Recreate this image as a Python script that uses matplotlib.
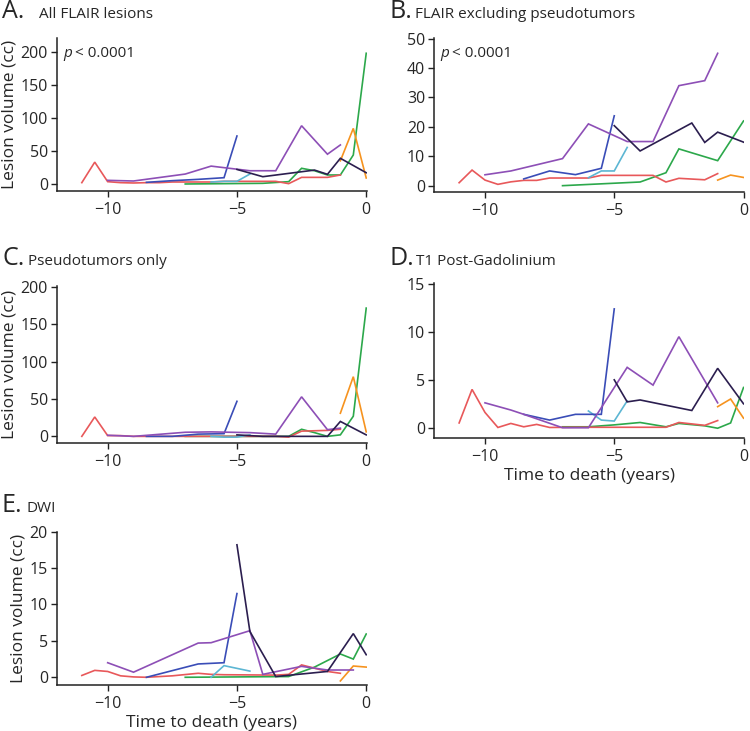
import matplotlib
matplotlib.use("Agg")
import matplotlib.pyplot as plt

plt.rcParams['font.family'] = ['Open Sans', 'DejaVu Sans']

# ---- data: time to death (years) per patient ----
red_t    = [-11, -10.5, -10, -9.5, -9, -8.5, -8, -7.5, -6.5, -6, -5.5, -3.5, -3, -2.5, -1.5, -1]
purple_t = [-10, -9, -8.5, -7, -6.5, -6, -4.5, -4, -3.5, -2.5, -1.5, -1, -0.5]
blue_t   = [-8.5, -7.5, -6.5, -5.5, -5]
cyan_t   = [-6, -5.5, -5, -4.5]
green_t  = [-7, -6, -5, -4, -3, -2.5, -2, -1.5, -1, -0.5, 0]
orange_t = [-1, -0.5, 0]
navy_t   = [-5, -4.5, -4, -3.5, -2, -1.5, -1, -0.5, 0]

# ---- A. All FLAIR lesions ----
A_red    = [2, 33, 3.5, 2, 1.5, 2, 2, 3, 3, 3, 4, 4, 0.5, 10, 10, 13.6]
A_purple = [5.5, 4.5, None, 15, None, 27, 20, None, 20, 88, 45, 59, None]
A_blue   = [2.5, 5, 7, 9.5, 72.5]
A_cyan   = [3, 4, 4, 15]
A_green  = [0, None, None, 1, 3.5, 23.7, 20, 13.6, 13.6, 43.8, 197.5]
A_orange = [35, 84, 9]
A_navy   = [22, None, 11, None, 21, 14.6, 38.8, None, 17]

# ---- B. FLAIR excluding pseudotumors ----
B_red    = [1.0, 5.3, 1.9, 0.45, 1.3, 1.8, 1.8, 2.6, 2.6, 2.6, 3.5, 3.5, 1.25, 2.5, 2.0, 4.1]
B_purple = [3.7, 5, None, 9.2, None, 21, 15, None, 15, 34, 35.7, 45, None]
B_blue   = [2.3, 5, 3.75, 5.9, 23.75]
B_cyan   = [2.7, 5, 5, 13]
B_green  = [0, None, None, 1.25, 4.4, 12.5, None, None, 8.5, None, 22]
B_orange = [1.9, 3.6, 2.8]
B_navy   = [20.4, None, 11.8, None, 21.3, 14.7, 18.2, None, 14.8]

# ---- C. Pseudotumors only ----
C_red    = [0, 26, 1, 1, 0, 0, 0, 0, 0, 0, 0, 0, -1, 7, 8, 9.5]
C_purple = [1.5, 0, None, 5.5, None, 6, 5, None, 3, 53, 9, 11, None]
C_blue   = [0, 0, 3, 3.6, 47]
C_cyan   = [0, -1, -1, 2]
C_green  = [0, None, None, 0, 0, 9.5, 5, 0, 2, 27, 172]
C_orange = [31, 80, 6]
C_navy   = [2, None, 0, None, 0, 0, 20, None, 2]

# ---- D. T1 Post-Gadolinium ----
D_red    = [0.5, 4.0, 1.6, 0.03, 0.45, 0.1, 0.35, 0.03, 0.05, 0.05, 0.05, 0.05, 0.05, 0.55, 0.25, 0.75]
D_purple = [2.6, 1.85, 1.4, 0.0, None, 0.0, 6.3, None, 4.45, 9.5, None, 2.6, None]
D_blue   = [1.4, 0.8, 1.4, 1.4, 12.4]
D_cyan   = [1.75, 0.8, 0.7, 2.8]
D_green  = [0.1, 0.1, 0.3, 0.55, 0.1, 0.45, None, 0.2, -0.05, 0.5, 4.2]
D_orange = [2.2, 3.0, 1.0]
D_navy   = [5.0, 2.7, 2.9, None, 1.8, None, 6.2, None, 2.5]

# ---- E. DWI ----
E_red    = [0.25, 0.95, 0.8, 0.2, 0.05, 0.0, 0.1, 0.2, 0.55, 0.4, 0.35, 0.3, 0.4, 1.7, 0.8, 0.55]
E_purple = [2.0, 0.7, None, None, 4.7, 4.75, 6.4, 0.4, None, 1.5, 1.0, None, 1.0]
E_blue   = [0, None, 1.83, 2.0, 11.5]
E_cyan   = [0, 1.6, None, 0.85]
E_green  = [0, None, None, None, 0.1, None, 1.4, None, 3.2, 2.5, 5.95]
E_orange = [-0.5, 1.55, 1.4]
E_navy   = [18.2, 6.3, None, 0.1, None, 0.8, None, 6.0, 3.1]

x_ticks = [-10, -5, 0]
A_yticks = [0, 50, 100, 150, 200]
B_yticks = [0, 10, 20, 30, 40, 50]
C_yticks = [0, 50, 100, 150, 200]
D_yticks = [0, 5, 10, 15]
E_yticks = [0, 5, 10, 15, 20]

colors = {
    'green': '#2ca84b', 'red': '#e8585a', 'cyan': '#5cb6d3', 'blue': '#3a4db7',
    'orange': '#f6931f', 'purple': '#8d4fb6', 'navy': '#2b1e4f',
}
times = {'red': red_t, 'purple': purple_t, 'blue': blue_t, 'cyan': cyan_t,
         'green': green_t, 'orange': orange_t, 'navy': navy_t}
order = ['green', 'red', 'cyan', 'blue', 'orange', 'purple', 'navy']

panels = [
    dict(vals=dict(red=A_red, purple=A_purple, blue=A_blue, cyan=A_cyan, green=A_green, orange=A_orange, navy=A_navy),
         rect=(57, 37.7, 191), ylim=(-10.6, 221), yticks=A_yticks, letter='A.', title='All FLAIR lesions',
         tpos=(2, 18.5, 39), ylabel=True, xlabel=False, pval=True),
    dict(vals=dict(red=B_red, purple=B_purple, blue=B_blue, cyan=B_cyan, green=B_green, orange=B_orange, navy=B_navy),
         rect=(434.3, 38.3, 191.7), ylim=(-2.05, 50.1), yticks=B_yticks, letter='B.', title='FLAIR excluding pseudotumors',
         tpos=(390, 18.5, 415), ylabel=False, xlabel=False, pval=True),
    dict(vals=dict(red=C_red, purple=C_purple, blue=C_blue, cyan=C_cyan, green=C_green, orange=C_orange, navy=C_navy),
         rect=(57, 285.7, 443), ylim=(-8.9, 202), yticks=C_yticks, letter='C.', title='Pseudotumors only',
         tpos=(2, 265, 28.5), ylabel=True, xlabel=False, pval=False),
    dict(vals=dict(red=D_red, purple=D_purple, blue=D_blue, cyan=D_cyan, green=D_green, orange=D_orange, navy=D_navy),
         rect=(434.3, 283.3, 438.3), ylim=(-1.1, 15.07), yticks=D_yticks, letter='D.', title='T1 Post-Gadolinium',
         tpos=(390, 265, 416.5), ylabel=False, xlabel=True, pval=False),
    dict(vals=dict(red=E_red, purple=E_purple, blue=E_blue, cyan=E_cyan, green=E_green, orange=E_orange, navy=E_navy),
         rect=(57, 531.7, 685), ylim=(-1.06, 20.0), yticks=E_yticks, letter='E.', title='DWI',
         tpos=(2, 512, 27), ylabel=True, xlabel=True, pval=False),
]

W, H = 750, 731
fig = plt.figure(figsize=(W / 100, H / 100), dpi=100)
txt = '#262626'

for p in panels:
    left, top, bottom = p['rect']
    ax = fig.add_axes([left / W, 1 - bottom / H, 310 / W, (bottom - top) / H])
    for key in order:
        t = times[key]
        v = p['vals'][key]
        xs = [a for a, b in zip(t, v) if b is not None]
        ys = [b for b in v if b is not None]
        ax.plot(xs, ys, color=colors[key], lw=1.2, solid_joinstyle='miter')
    ax.set_xlim(-11.96, 0.03)
    ax.set_ylim(*p['ylim'])
    ax.set_xticks(x_ticks)
    ax.set_yticks(p['yticks'])
    for s in ['top', 'right']:
        ax.spines[s].set_visible(False)
    for s in ['left', 'bottom']:
        ax.spines[s].set_color('#222222')
        ax.spines[s].set_linewidth(1.1)
    ax.tick_params(direction='out', length=4, width=1.0, color='#222222',
                   labelsize=11.5, labelcolor=txt)
    ax.tick_params(axis='x', pad=4)
    ax.tick_params(axis='y', pad=2.5)
    if p['ylabel']:
        ax.set_ylabel('Lesion volume (cc)', fontsize=12.5, color=txt, labelpad=2)
    if p['xlabel']:
        ax.set_xlabel('Time to death (years)', fontsize=12.5, color=txt, labelpad=2)
    if p['pval']:
        ax.text(0.02, 0.9, 'p', transform=ax.transAxes, fontsize=11, style='italic',
                color=txt, va='center', ha='left')
        ax.text(0.057, 0.9, '< 0.0001', transform=ax.transAxes, fontsize=11,
                color=txt, va='center', ha='left')
    lx, ly, sx = p['tpos']
    fig.text(lx / W, 1 - ly / H, p['letter'], fontsize=18, color=txt, va='baseline', ha='left')
    fig.text(sx / W, 1 - ly / H, p['title'], fontsize=11, color=txt, va='baseline', ha='left')

fig.savefig('out.png', dpi=100)
